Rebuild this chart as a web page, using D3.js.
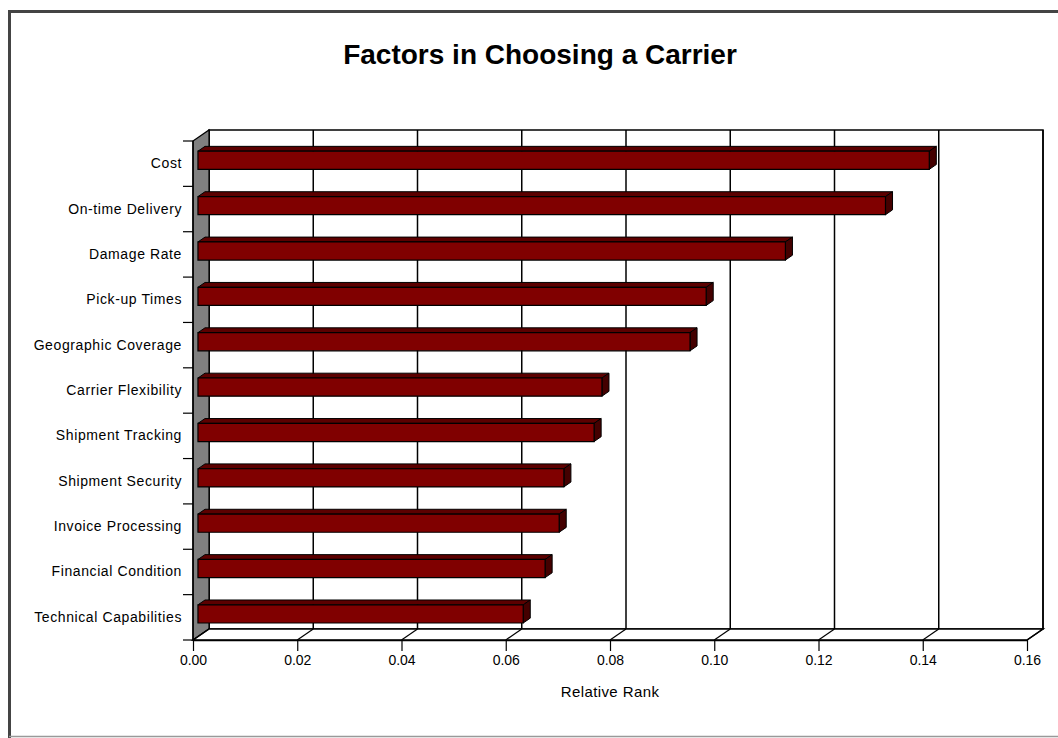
<!DOCTYPE html>
<html>
<head>
<meta charset="utf-8">
<script src="https://cdn.jsdelivr.net/npm/d3@7"></script>
<style>
  body { margin: 0; background: #fff; }
  svg { font-family: "Liberation Sans", Arial, sans-serif; }
</style>
</head>
<body>
<svg width="1058" height="738"></svg>
<script>
var categories = ["Cost", "On-time Delivery", "Damage Rate", "Pick-up Times", "Geographic Coverage",
    "Carrier Flexibility", "Shipment Tracking", "Shipment Security", "Invoice Processing",
    "Financial Condition", "Technical Capabilities"];
var values = [0.1403, 0.1319, 0.1127, 0.0975, 0.0944, 0.0775, 0.0760, 0.0702, 0.0693, 0.0666, 0.0624];
var xTicks = [0, 0.02, 0.04, 0.06, 0.08, 0.10, 0.12, 0.14, 0.16];

var svg = d3.select("svg");

// outer frame: heavy top/left, light bottom
svg.append("path").attr("d", "M9.5,740 L9.5,11.5 L1060,11.5")
    .attr("fill", "none").attr("stroke", "#444").attr("stroke-width", 3);
svg.append("line").attr("x1", 9).attr("x2", 1058).attr("y1", 736.5).attr("y2", 736.5)
    .attr("stroke", "#999").attr("stroke-width", 1.5);

// front plane and depth vector
var fx0 = 193, fy0 = 141, fy1 = 640;
var DX = 16, DY = -11;

var scX = d3.scaleLinear().domain([0, 0.16]).range([fx0, 1027]);
var scY = d3.scaleBand().domain(categories).range([fy0, fy1]).paddingInner(0).paddingOuter(0);

function pt(x, y, d) { return [x + DX * d, y + DY * d]; }
function poly(pts) { return "M" + pts.map(p => p.join(",")).join("L") + "Z"; }

// back wall
svg.append("path")
    .attr("d", poly([pt(fx0, fy0, 1), pt(scX(0.16), fy0, 1), pt(scX(0.16), fy1, 1), pt(fx0, fy1, 1)]))
    .attr("fill", "#fff").attr("stroke", "#000").attr("stroke-width", 1.5);

// gridlines on back wall
svg.selectAll("line.grid")
    .data(xTicks)
    .enter()
    .append("line")
    .attr("class", "grid")
    .attr("x1", d => scX(d) + DX).attr("y1", fy0 + DY)
    .attr("x2", d => scX(d) + DX).attr("y2", fy1 + DY)
    .attr("stroke", "#000").attr("stroke-width", 1.5);

// left wall
svg.append("path")
    .attr("d", poly([pt(fx0, fy0, 0), pt(fx0, fy0, 1), pt(fx0, fy1, 1), pt(fx0, fy1, 0)]))
    .attr("fill", "#808080").attr("stroke", "#000").attr("stroke-width", 1.2);

// floor
svg.append("path")
    .attr("d", poly([pt(fx0, fy1, 0), pt(fx0, fy1, 1), pt(scX(0.16), fy1, 1), pt(scX(0.16), fy1, 0)]))
    .attr("fill", "#fff").attr("stroke", "#000").attr("stroke-width", 1.5);

svg.selectAll("line.floor")
    .data(xTicks)
    .enter()
    .append("line")
    .attr("class", "floor")
    .attr("x1", d => scX(d)).attr("y1", fy1)
    .attr("x2", d => scX(d) + DX).attr("y2", fy1 + DY)
    .attr("stroke", "#000").attr("stroke-width", 1.2);

// bars
var d1 = 0.31, d2 = 0.75;
var barH = scY.bandwidth() * 0.4;
var ddx = DX * (d2 - d1), ddy = DY * (d2 - d1);

var bars = svg.selectAll("g.bar")
    .data(categories.map((c, i) => ({ c: c, v: values[i] })))
    .enter()
    .append("g")
    .attr("class", "bar");

function barGeom(d) {
    var x0 = scX(0) + DX * d1, x1 = scX(d.v) + DX * d1;
    var yt = scY(d.c) + (scY.bandwidth() - barH) / 2 + DY * d1;
    return { x0: x0, x1: x1, yt: yt, yb: yt + barH };
}

bars.append("path")
    .attr("d", d => { var g = barGeom(d); return poly([[g.x0, g.yt], [g.x1, g.yt], [g.x1 + ddx, g.yt + ddy], [g.x0 + ddx, g.yt + ddy]]); })
    .attr("fill", "#5c0000").attr("stroke", "#000").attr("stroke-width", 1);

bars.append("path")
    .attr("d", d => { var g = barGeom(d); return poly([[g.x1, g.yt], [g.x1 + ddx, g.yt + ddy], [g.x1 + ddx, g.yb + ddy], [g.x1, g.yb]]); })
    .attr("fill", "#440000").attr("stroke", "#000").attr("stroke-width", 1);

bars.append("path")
    .attr("d", d => { var g = barGeom(d); return poly([[g.x0, g.yt], [g.x1, g.yt], [g.x1, g.yb], [g.x0, g.yb]]); })
    .attr("fill", "#800000").attr("stroke", "#000").attr("stroke-width", 1.2);

// front axes
svg.append("line").attr("x1", fx0).attr("y1", fy0).attr("x2", fx0).attr("y2", fy1)
    .attr("stroke", "#000").attr("stroke-width", 1.5);

var yAxis = svg.append("g")
    .attr("transform", "translate(" + fx0 + ",0)")
    .call(d3.axisLeft(scY).tickSize(0).tickPadding(11));
yAxis.select(".domain").remove();
yAxis.selectAll("text").attr("font-size", 14).attr("fill", "#000")
    .attr("font-family", "Liberation Sans, Arial, sans-serif").attr("letter-spacing", 0.6);

// y tick marks at band boundaries
svg.selectAll("line.ytick")
    .data(categories.concat(["end"]))
    .enter()
    .append("line")
    .attr("class", "ytick")
    .attr("x1", fx0 - 10).attr("x2", fx0)
    .attr("y1", (d, i) => fy0 + i * scY.step())
    .attr("y2", (d, i) => fy0 + i * scY.step())
    .attr("stroke", "#000").attr("stroke-width", 1.2);

var xAxis = svg.append("g")
    .attr("transform", "translate(0," + fy1 + ")")
    .call(d3.axisBottom(scX).tickValues(xTicks).tickFormat(d3.format(".2f")).tickSize(11).tickSizeOuter(0).tickPadding(4));
xAxis.select(".domain").attr("stroke-width", 1.5);
xAxis.selectAll(".tick line").attr("stroke-width", 1.2);
xAxis.selectAll("text").attr("font-size", 14).attr("fill", "#000")
    .attr("font-family", "Liberation Sans, Arial, sans-serif");

// titles
svg.append("text")
    .attr("x", 540).attr("y", 64)
    .attr("text-anchor", "middle")
    .attr("font-size", 28).attr("font-weight", "bold")
    .text("Factors in Choosing a Carrier");

svg.append("text")
    .attr("x", 610).attr("y", 697)
    .attr("text-anchor", "middle")
    .attr("font-size", 15).attr("letter-spacing", 0.4)
    .text("Relative Rank");
</script>
</body>
</html>
